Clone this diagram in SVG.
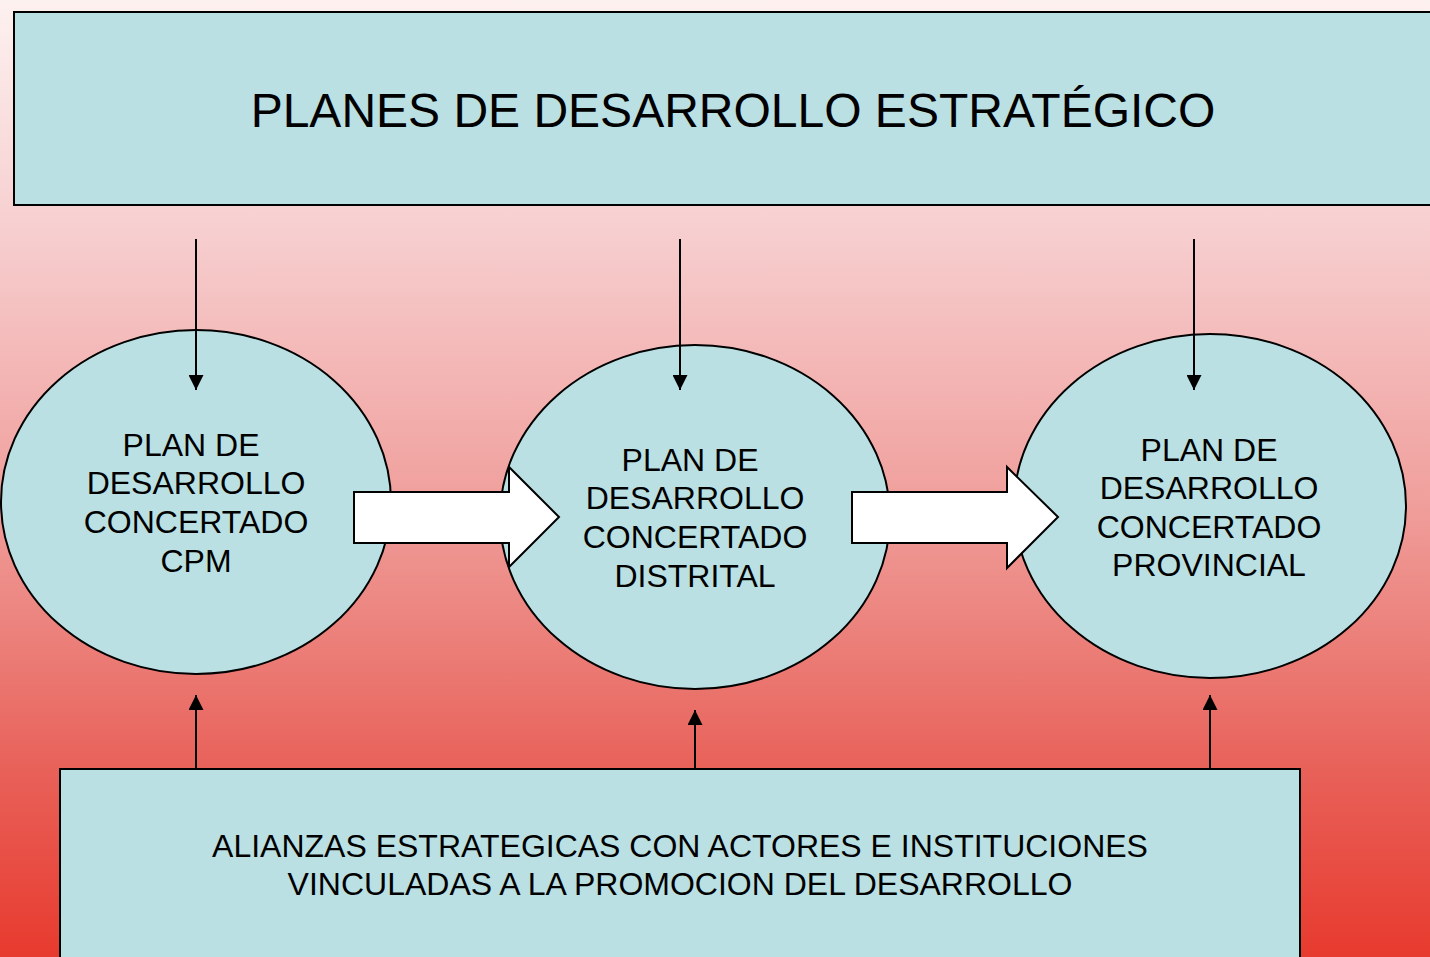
<svg xmlns="http://www.w3.org/2000/svg" width="1430" height="957" viewBox="0 0 1430 957">
<defs>
<linearGradient id="bg" x1="0" y1="0" x2="0" y2="1">
<stop offset="0" stop-color="#fdf1f0"/>
<stop offset="0.23" stop-color="#f7d0d1"/>
<stop offset="0.52" stop-color="#f0a09d"/>
<stop offset="0.8" stop-color="#e8625a"/>
<stop offset="1" stop-color="#e83a2e"/>
</linearGradient>
<marker id="ah" markerWidth="15" markerHeight="15" refX="10" refY="5" orient="auto" markerUnits="userSpaceOnUse" viewBox="0 0 10 10">
<path d="M0,0 L10,5 L0,10 z" fill="#000"/>
</marker>
<style>
.box{fill:#bae0e3;stroke:#000;stroke-width:2}
.blk{fill:#fff;stroke:#000;stroke-width:2}
.ln{stroke:#000;stroke-width:2;fill:none;marker-end:url(#ah)}
text{font-family:"Liberation Sans",Arial,sans-serif;fill:#000;text-anchor:middle}
.t1{font-size:48px}
.t2{font-size:32px}
</style>
</defs>
<rect x="0" y="0" width="1430" height="957" fill="url(#bg)"/>
<g id="top">
<rect class="box" x="14" y="12" width="1430" height="193"/>
<text class="t1" x="733" y="127">PLANES DE DESARROLLO ESTRATÉGICO</text>
</g>
<g id="bottom">
<rect class="box" x="60" y="769" width="1240" height="200"/>
<text class="t2" x="680" y="857">ALIANZAS ESTRATEGICAS CON ACTORES E INSTITUCIONES</text>
<text class="t2" x="680" y="895">VINCULADAS A LA PROMOCION DEL DESARROLLO</text>
</g>
<g id="n1">
<ellipse class="box" cx="196" cy="502" rx="195" ry="172"/>
<text class="t2" x="191" y="456">PLAN DE</text>
<text class="t2" x="196" y="494">DESARROLLO</text>
<text class="t2" x="196" y="533">CONCERTADO</text>
<text class="t2" x="196" y="572">CPM</text>
</g>
<g id="n2">
<ellipse class="box" cx="695" cy="517" rx="195" ry="172"/>
<text class="t2" x="690" y="471">PLAN DE</text>
<text class="t2" x="695" y="509">DESARROLLO</text>
<text class="t2" x="695" y="548">CONCERTADO</text>
<text class="t2" x="695" y="587">DISTRITAL</text>
</g>
<g id="n3">
<ellipse class="box" cx="1210" cy="506" rx="196" ry="172"/>
<text class="t2" x="1209" y="461">PLAN DE</text>
<text class="t2" x="1209" y="499">DESARROLLO</text>
<text class="t2" x="1209" y="538">CONCERTADO</text>
<text class="t2" x="1209" y="576">PROVINCIAL</text>
</g>
<g id="connectors">
<path class="blk" d="M354,492 H509 V467 L559,517 L509,567 V543 H354 Z"/>
<path class="blk" d="M852,492 H1007 V467 L1058,517 L1007,568 V543 H852 Z"/>
<line class="ln" x1="196" y1="239" x2="196" y2="390"/>
<line class="ln" x1="680" y1="239" x2="680" y2="390"/>
<line class="ln" x1="1194" y1="239" x2="1194" y2="390"/>
<line class="ln" x1="196" y1="769" x2="196" y2="695"/>
<line class="ln" x1="695" y1="769" x2="695" y2="710"/>
<line class="ln" x1="1210" y1="769" x2="1210" y2="695"/>
</g>
</svg>
